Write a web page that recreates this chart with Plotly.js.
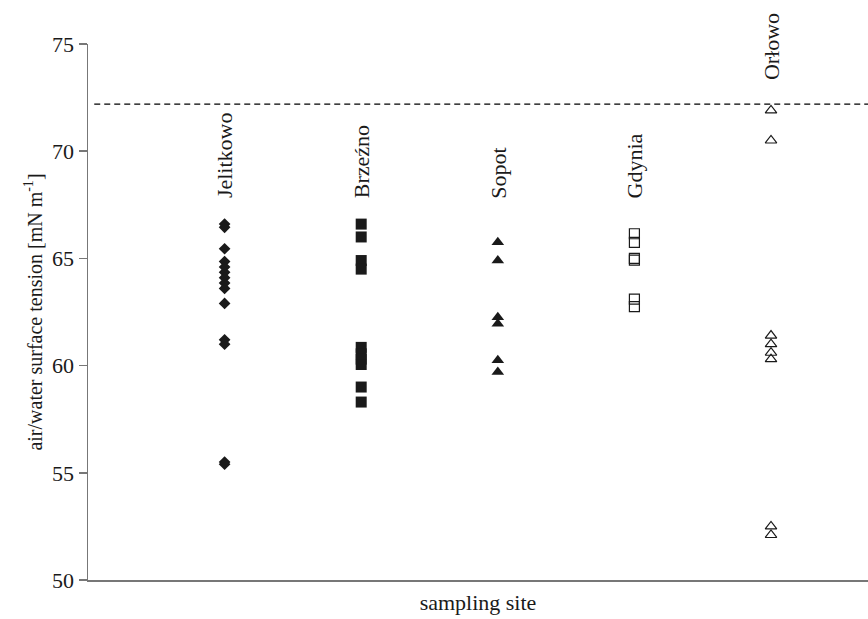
<!DOCTYPE html>
<html>
<head>
<meta charset="utf-8">
<script src="https://cdn.plot.ly/plotly-3.0.1.min.js"></script>
<style>html,body{margin:0;padding:0;background:#fff;}#chart{width:868px;height:619px;}</style>
</head>
<body>
<div id="chart"></div>
<script>
// ---- data ----
const categories = ["Jelitkowo", "Brzeźno", "Sopot", "Gdynia", "Orłowo"];
const jelitkowo = [66.6, 66.45, 65.45, 64.85, 64.6, 64.35, 64.1, 63.85, 63.6, 62.9, 61.2, 61.0, 55.5, 55.4];
const brzezno   = [66.6, 66.0, 64.9, 64.5, 60.85, 60.55, 60.3, 60.05, 59.0, 58.3];
const sopot     = [65.75, 64.9, 62.25, 61.95, 60.25, 59.7];
const gdynia    = [66.15, 65.75, 65.0, 64.92, 63.1, 62.75];
const orlowo    = [71.9, 70.5, 61.4, 61.0, 60.6, 60.3, 52.5, 52.1];
const referenceTension = 72.2;   // dashed reference line (pure water)
const yTicks = [50, 55, 60, 65, 70, 75];

// ---- styles ----
const ink = "#1a1a1a";
const serif = "Liberation Serif, Times New Roman, serif";
const series = [jelitkowo, brzezno, sopot, gdynia, orlowo];
const markers = [
  {symbol: "diamond", size: 9, color: ink},
  {symbol: "square", size: 11, color: ink},
  {symbol: "triangle-up", size: 11, color: ink},
  {symbol: "square-open", size: 10, color: ink, line: {width: 1.2, color: ink}},
  {symbol: "triangle-up-open", size: 10, color: ink, line: {width: 1.2, color: ink}}
];
const labelY = [67.7, 67.7, 67.7, 67.7, 73.2];

const traces = series.map((vals, i) => ({
  type: "scatter",
  mode: "markers",
  name: categories[i],
  x: vals.map(() => i + 1),
  y: vals,
  marker: markers[i],
  hoverinfo: "y"
}));

const annotations = categories.map((c, i) => ({
  text: c,
  x: i + 1,
  y: labelY[i],
  xref: "x",
  yref: "y",
  xanchor: "center",
  yanchor: "bottom",
  textangle: -90,
  showarrow: false,
  font: {family: serif, size: 22, color: ink}
}));

const layout = {
  width: 868,
  height: 619,
  margin: {l: 88, r: 0, t: 44, b: 39},
  paper_bgcolor: "#fff",
  plot_bgcolor: "#fff",
  showlegend: false,
  font: {family: serif, size: 22, color: ink},
  xaxis: {
    range: [0, 5.71],
    showticklabels: false,
    ticks: "",
    showgrid: false,
    zeroline: false,
    showline: true,
    linecolor: "#777",
    linewidth: 1.5,
    title: {text: "sampling site", font: {family: serif, size: 22, color: ink}, standoff: 14}
  },
  yaxis: {
    range: [50, 75],
    tickvals: yTicks,
    ticktext: yTicks.map(String),
    ticks: "outside",
    ticklen: 8,
    tickwidth: 1.5,
    tickcolor: "#777",
    showgrid: false,
    zeroline: false,
    showline: true,
    linecolor: "#777",
    linewidth: 1.5,
    tickfont: {family: serif, size: 22, color: ink},
    title: {text: "air/water surface tension [mN m<sup>-1</sup>]", font: {family: serif, size: 20, color: ink}, standoff: 4}
  },
  shapes: [{
    type: "line",
    xref: "paper",
    yref: "y",
    x0: 0.008, x1: 1,
    y0: referenceTension, y1: referenceTension,
    line: {color: "#000", width: 1.2, dash: "6px,4px"}
  }],
  annotations: annotations
};

Plotly.newPlot("chart", traces, layout, {displayModeBar: false, staticPlot: true});
</script>
</body>
</html>
